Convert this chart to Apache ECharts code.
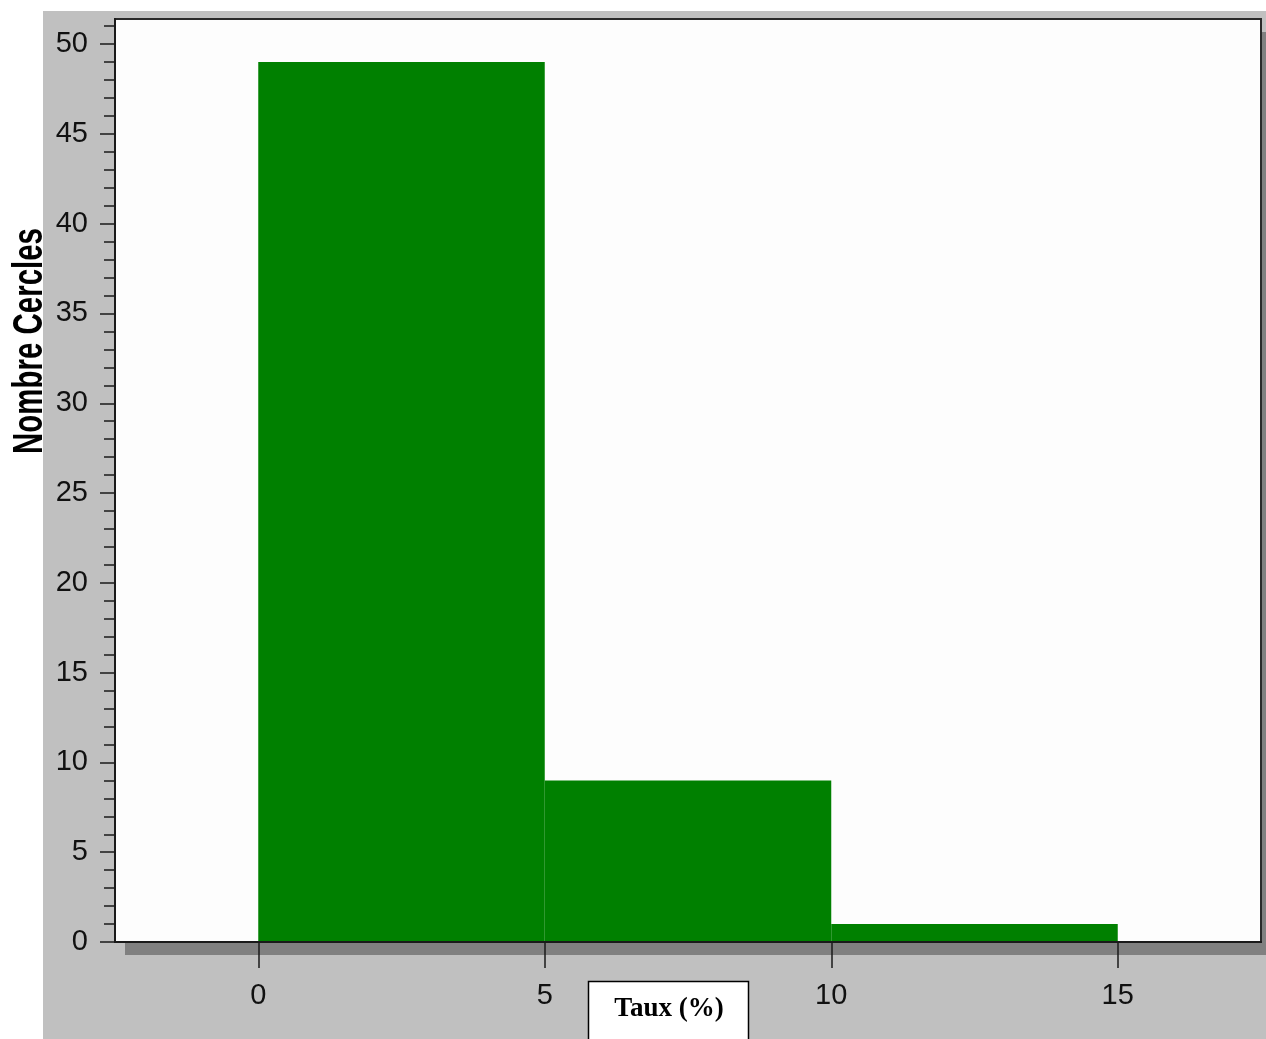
<!DOCTYPE html>
<html>
<head>
<meta charset="utf-8">
<script src="https://cdn.jsdelivr.net/npm/echarts@6/dist/echarts.min.js"></script>
<style>
html,body{margin:0;padding:0;background:#fff;}
#chart{width:1266px;height:1039px;}
</style>
</head>
<body>
<div id="chart"></div>
<script>
// Histogram bins (Taux %) and counts (Nombre Cercles)
const binStarts = [0, 5, 10];
const binEnds = [5, 10, 15];
const counts = [49, 9, 1];
const xTickValues = [0, 5, 10, 15];
const yMajorTicks = [0, 5, 10, 15, 20, 25, 30, 35, 40, 45, 50];
const yMinorTicks = [0,1,2,3,4,5,6,7,8,9,10,11,12,13,14,15,16,17,18,19,20,21,22,23,24,25,26,27,28,29,30,31,32,33,34,35,36,37,38,39,40,41,42,43,44,45,46,47,48,49,50,51];
const xAxisTitle = 'Taux (%)';
const yAxisTitle = 'Nombre Cercles';

const chart = echarts.init(document.getElementById('chart'), null, {renderer: 'canvas'});

const histData = binStarts.map((s, i) => [s, binEnds[i], counts[i]]);

const labelFont = {
  fontFamily: "'Liberation Sans Narrow','Liberation Sans',Arial,sans-serif",
  fontSize: 29,
  color: '#111'
};

const option = {
  animation: false,
  backgroundColor: '#c0c0c0',
  grid: {
    left: 115, right: 5, top: 19, bottom: 97,
    show: true,
    backgroundColor: '#fdfdfd',
    borderColor: '#2a2a2a',
    borderWidth: 2
  },
  xAxis: {
    type: 'value',
    min: -2.5,
    max: 17.5,
    z: 5,
    axisLine: {show: true, onZero: false, lineStyle: {color: '#1a1a1a', width: 2}},
    axisTick: {show: true, customValues: xTickValues, length: 26, lineStyle: {color: '#1a1a1a', width: 1.5}},
    axisLabel: Object.assign({customValues: xTickValues, margin: 39}, labelFont),
    splitLine: {show: false}
  },
  yAxis: [
    {
      type: 'value',
      min: 0,
      max: 51.4,
      position: 'left',
      z: 5,
      axisLine: {show: true, onZero: false, lineStyle: {color: '#1a1a1a', width: 2}},
      axisTick: {show: true, customValues: yMajorTicks, length: 15, lineStyle: {color: '#1a1a1a', width: 1.5}},
      axisLabel: Object.assign({customValues: yMajorTicks, margin: 27}, labelFont),
      splitLine: {show: false}
    },
    {
      type: 'value',
      min: 0,
      max: 51.4,
      position: 'left',
      offset: 0,
      z: 5,
      axisLine: {show: false, onZero: false},
      axisTick: {show: true, customValues: yMinorTicks, length: 11, lineStyle: {color: '#1a1a1a', width: 1.5}},
      axisLabel: {show: false},
      splitLine: {show: false}
    }
  ],
  series: [{
    type: 'custom',
    xAxisIndex: 0,
    yAxisIndex: 0,
    z: 2,
    data: histData,
    encode: {x: [0, 1], y: 2},
    renderItem: function (params, api) {
      const p0 = api.coord([api.value(0), api.value(2)]);
      const p1 = api.coord([api.value(1), 0]);
      return {
        type: 'rect',
        shape: {x: p0[0], y: p0[1], width: p1[0] - p0[0], height: p1[1] - p0[1]},
        style: {fill: '#008000'}
      };
    }
  }],
  graphic: {
    elements: [
      {type: 'rect', z: -1, shape: {x: 0, y: 0, width: 1266, height: 11}, style: {fill: '#ffffff'}},
      {type: 'rect', z: -1, shape: {x: 0, y: 0, width: 43, height: 1039}, style: {fill: '#ffffff'}},
      {type: 'rect', z: -1, shape: {x: 125, y: 943, width: 1141, height: 12}, style: {fill: '#808080'}},
      {type: 'rect', z: -1, shape: {x: 1262, y: 32, width: 4, height: 923}, style: {fill: '#808080'}},
      {type: 'rect', z: 1, shape: {x: 588.5, y: 981.5, width: 160, height: 70}, style: {fill: '#ffffff', stroke: '#000000', lineWidth: 1.5}},
      {type: 'text', z: 2, x: 669, y: 1009, style: {text: xAxisTitle, font: "bold 27px 'Liberation Serif','Times New Roman',serif", fill: '#000', align: 'center', verticalAlign: 'middle'}},
      {type: 'text', z: 2, x: 30, y: 341, rotation: Math.PI / 2, scaleX: 0.685,
        style: {text: yAxisTitle, font: "bold 43px 'Liberation Sans',Arial,sans-serif", fill: '#000', align: 'center', verticalAlign: 'middle'}}
    ]
  }
};

chart.setOption(option);
</script>
</body>
</html>
